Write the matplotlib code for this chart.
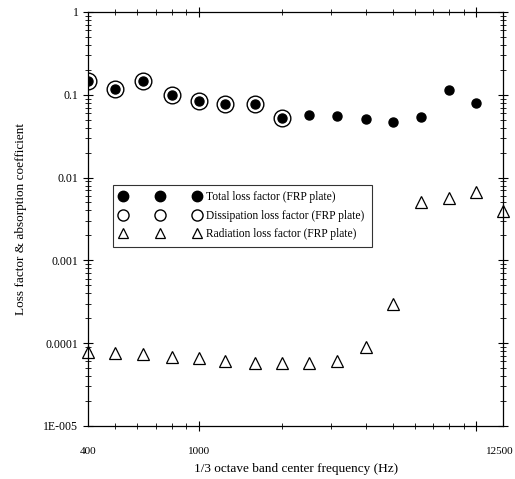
import numpy as np
import matplotlib
matplotlib.use("Agg")
from matplotlib import pyplot as plt
from matplotlib.ticker import FixedLocator, NullFormatter

# 1/3 octave band centre frequencies (Hz)
freq = [400, 500, 630, 800, 1000, 1250, 1600, 2000, 2500, 3150,
        4000, 5000, 6300, 8000, 10000, 12500]

# total loss factor (filled circles), 400..10000 Hz
total = [0.148, 0.118, 0.148, 0.100, 0.085, 0.078, 0.078, 0.053,
         0.057, 0.056, 0.051, 0.047, 0.054, 0.115, 0.080]

# dissipation loss factor (open circles), 400..2000 Hz
dissip = [0.148, 0.118, 0.148, 0.100, 0.085, 0.078, 0.078, 0.053]

# radiation loss factor (triangles), 400..12500 Hz
radiat = [7.8e-5, 7.6e-5, 7.4e-5, 6.8e-5, 6.6e-5, 6.1e-5, 5.7e-5, 5.7e-5,
          5.7e-5, 6.0e-5, 9.0e-5, 3.0e-4, 5.1e-3, 5.6e-3, 6.6e-3, 3.9e-3]

ytick_vals = [1e-5, 1e-4, 1e-3, 1e-2, 1e-1, 1]
ytick_labels = ["1E-005", "0.0001", "0.001", "0.01", "0.1", "1"]
xtick_vals = [400, 1000, 12500]
xtick_labels = ["400", "1000", "12500"]

plt.rcParams['font.family'] = ['Liberation Serif', 'DejaVu Serif']

fig = plt.figure(figsize=(5.15, 4.79), dpi=100)
ax = fig.add_axes([0.171, 0.111, 0.806, 0.864])

ax.plot(freq[:len(total)], total, 'o', color='black', markersize=6.5,
        label='Total loss factor (FRP plate)')
ax.plot(freq[:len(dissip)], dissip, 'o', markerfacecolor='none',
        markeredgecolor='black', markeredgewidth=1.0, markersize=12,
        label='Dissipation loss factor (FRP plate)')
ax.plot(freq, radiat, '^', markerfacecolor='white', markeredgecolor='black',
        markeredgewidth=0.9, markersize=9, clip_on=False,
        label='Radiation loss factor (FRP plate)')

ax.set_xscale('log')
ax.set_yscale('log')
ax.set_xlim(400, 12500)
ax.set_ylim(1e-5, 1)

ax.xaxis.set_major_locator(FixedLocator([1000, 10000]))
ax.xaxis.set_minor_locator(FixedLocator([500, 600, 700, 800, 900, 2000, 3000,
                                         4000, 5000, 6000, 7000, 8000, 9000]))
ax.xaxis.set_major_formatter(NullFormatter())
ax.xaxis.set_minor_formatter(NullFormatter())
ax.set_yticks(ytick_vals)
ax.set_yticklabels(ytick_labels)

ax.tick_params(which='both', direction='inout', top=True, right=True,
               labelsize=8.5)
ax.tick_params(which='major', length=7, width=0.8)
ax.tick_params(which='minor', length=4, width=0.6)

# x tick labels placed by hand (only three shown in the original)
for v, t in zip(xtick_vals, xtick_labels):
    if v == 12500:
        ax.text(1.024, -0.05, t, transform=ax.transAxes,
                ha='right', va='top', fontsize=8)
    else:
        ax.text(v, -0.05, t, transform=ax.get_xaxis_transform(),
                ha='center', va='top', fontsize=8)

ax.set_xlabel('1/3 octave band center frequency (Hz)', fontsize=9.5, labelpad=20)
ax.set_ylabel('Loss factor & absorption coefficient', fontsize=9.5, labelpad=12)

leg = ax.legend(loc='upper left', bbox_to_anchor=(0.06, 0.583), numpoints=3,
                fontsize=8.3, frameon=True, fancybox=False, edgecolor='black',
                handlelength=7, borderpad=0.6, labelspacing=0.55,
                handletextpad=0.5, borderaxespad=0)
leg.get_frame().set_linewidth(0.8)
for h, ms in zip(leg.legend_handles, [7.5, 8, 7]):
    h.set_markersize(ms)

for s in ax.spines.values():
    s.set_linewidth(0.9)

fig.savefig('out.png', dpi=100)
